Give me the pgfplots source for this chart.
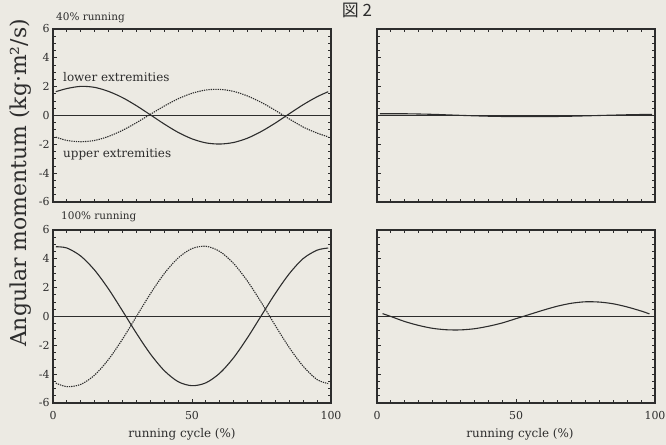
\documentclass[border=0pt]{standalone}
\usepackage{pgfplots}
\pgfplotsset{compat=1.18}
\usepackage{fontspec}
\setmainfont{DejaVu Serif}
\newfontfamily\cjk{Noto Sans CJK JP}
\definecolor{bg}{RGB}{236,234,227}
\definecolor{ink}{RGB}{45,45,45}

\pgfplotsset{
  panel/.style={
    scale only axis, width=278bp, height=173bp,
    anchor=south west,
    xmin=0, xmax=100, ymin=-6, ymax=6,
    xtick={0,50,100}, minor x tick num=9,
    ytick={-6,-4,-2,0,2,4,6}, minor y tick num=3,
    tick align=inside, major tick length=3.5bp, minor tick length=3bp,
    axis line style={ink, line width=1.1pt},
    every tick/.style={ink, line width=0.9pt},
    every minor tick/.style={ink, line width=0.9pt},
    ticklabel style={font=\fontsize{11}{12}\selectfont, text=ink},
    xticklabel style={yshift=-5bp},
    axis background/.style={fill=bg},
    clip=true,
  },
  solidc/.style={ink, line width=1.1pt, smooth, no markers},
  dotc/.style={ink, line width=1.1pt, smooth, no markers, dash pattern=on 1.3pt off 1pt},
  zeroline/.style={ink, line width=0.9pt, no markers},
}

\begin{document}
\begin{tikzpicture}
\fill[bg] (0,0) rectangle (666bp,445bp);
\useasboundingbox (0,0) rectangle (666bp,445bp);

% ---------- top left: 40% running ----------
\begin{axis}[panel, at={(53bp,243bp)}, xticklabels={}, yticklabels={-6,-4,-2,0,2,4,6}]
\addplot[zeroline] coordinates {(0,0) (100,0)};
\addplot[solidc] coordinates {
(1,1.65) (5,1.87) (10,2.02) (15,1.95) (20,1.67) (25,1.24) (30,0.68) (35,0.05)
(40,-0.59) (45,-1.17) (50,-1.62) (55,-1.9) (60,-1.98) (65,-1.87) (70,-1.57)
(75,-1.1) (80,-0.52) (85,0.12) (90,0.75) (95,1.3) (99,1.65)};
\addplot[dotc] coordinates {
(1,-1.5) (5,-1.73) (10,-1.82) (15,-1.73) (20,-1.45) (25,-1.03) (30,-0.5) (35,0.08)
(40,0.65) (45,1.16) (50,1.54) (55,1.77) (60,1.81) (65,1.67) (70,1.35)
(75,0.9) (80,0.35) (85,-0.24) (90,-0.8) (95,-1.22) (99,-1.48)};
\node[anchor=west, font=\fontsize{12}{13}\selectfont, text=ink, inner sep=0pt] at (rel axis cs:0.036,0.72) {lower extremities};
\node[anchor=west, font=\fontsize{12}{13}\selectfont, text=ink, inner sep=0pt] at (rel axis cs:0.036,0.275) {upper extremities};
\end{axis}

% ---------- top right ----------
\begin{axis}[panel, at={(377bp,243bp)}, xticklabels={}, yticklabels={}]
\addplot[zeroline] coordinates {(0,0) (100,0)};
\addplot[solidc] coordinates {
(1,0.12) (10,0.12) (20,0.08) (30,0.01) (40,-0.05) (50,-0.08) (60,-0.08)
(70,-0.05) (80,0.0) (90,0.05) (99,0.08)};
\end{axis}

% ---------- bottom left: 100% running ----------
\begin{axis}[panel, at={(53bp,42bp)}, xticklabels={0,50,100}, yticklabels={-6,-4,-2,0,2,4,6}]
\addplot[zeroline] coordinates {(0,0) (100,0)};
\addplot[solidc] coordinates {
(1,4.84) (5,4.75) (10,4.19) (15,3.21) (20,1.9) (25,0.39) (30,-1.16) (35,-2.59)
(40,-3.75) (45,-4.52) (50,-4.8) (55,-4.6) (60,-3.93) (65,-2.85) (70,-1.46)
(75,0.08) (80,1.61) (85,2.97) (90,4.02) (95,4.6) (99,4.75)};
\addplot[dotc] coordinates {
(1,-4.62) (5,-4.87) (10,-4.71) (15,-4.06) (20,-2.97) (25,-1.57) (30,0) (35,1.57)
(40,2.97) (45,4.06) (50,4.71) (55,4.87) (60,4.51) (65,3.67) (70,2.44)
(75,0.95) (80,-0.64) (85,-2.16) (90,-3.45) (95,-4.38) (99,-4.65)};
\end{axis}

% ---------- bottom right ----------
\begin{axis}[panel, at={(377bp,42bp)}, xticklabels={0,50,100}, yticklabels={}]
\addplot[zeroline] coordinates {(0,0) (100,0)};
\addplot[solidc] coordinates {
(2,0.2) (5,0.0) (10,-0.35) (15,-0.62) (20,-0.82) (25,-0.92) (30,-0.93) (35,-0.85)
(40,-0.68) (45,-0.45) (50,-0.15) (55,0.15) (60,0.45) (65,0.72) (70,0.92)
(75,1.02) (80,1.0) (85,0.88) (90,0.66) (95,0.38) (98,0.18)};
\end{axis}

% ---------- texts ----------
\node[font=\cjk\fontsize{17}{18}\selectfont, text=ink] at (357bp,435bp) {図 2};
\node[anchor=west, font=\fontsize{10.5}{12}\selectfont, text=ink, inner sep=0pt] at (56bp,427.5bp) {40\% running};
\node[anchor=west, font=\fontsize{10.5}{12}\selectfont, text=ink, inner sep=0pt] at (61bp,228bp) {100\% running};
\node[rotate=90, font=\fontsize{22}{24}\selectfont, text=ink] at (21bp,262bp) {Angular momentum (kg·m²/s)};
\node[font=\fontsize{12}{13}\selectfont, text=ink] at (182bp,11bp) {running cycle (\%)};
\node[font=\fontsize{12}{13}\selectfont, text=ink] at (520bp,11bp) {running cycle (\%)};
\end{tikzpicture}
\end{document}
